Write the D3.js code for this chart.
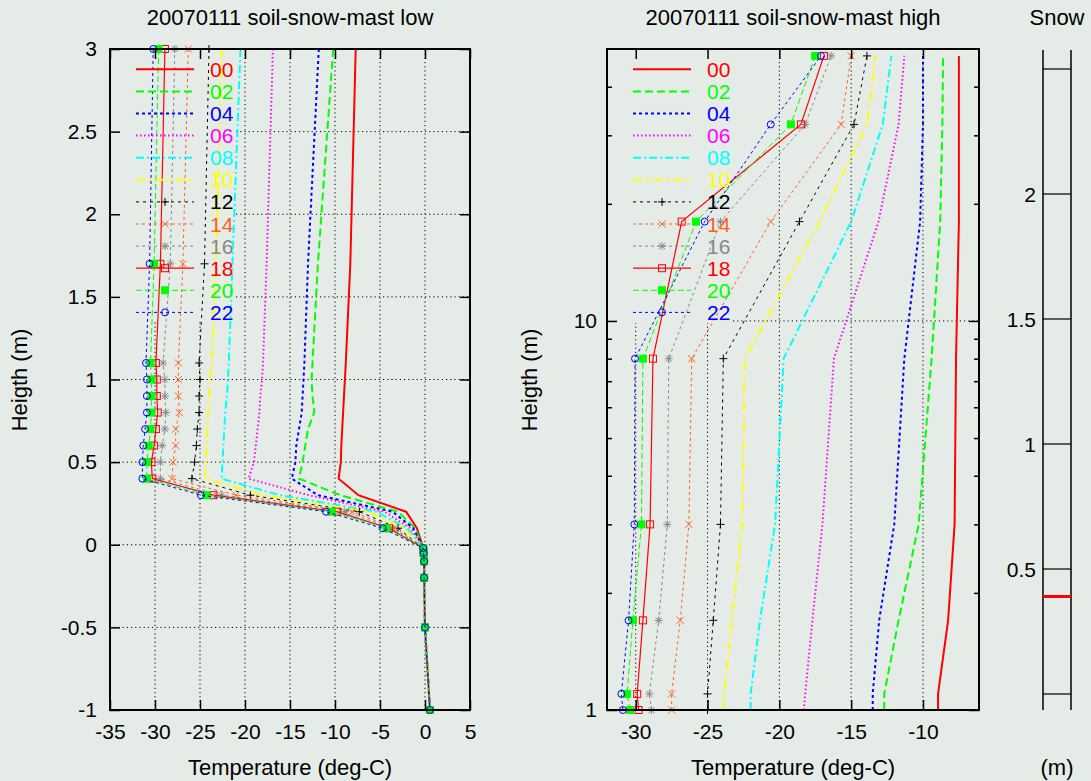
<!DOCTYPE html>
<html>
<head>
<meta charset="utf-8">
<script src="https://cdn.jsdelivr.net/npm/d3@7"></script>
<style>
  body { margin: 0; background: #e5ece8; }
  svg { display: block; font-family: "Liberation Sans", Arial, sans-serif; }
</style>
</head>
<body>
<div class="chart-box"></div>
<script>
// hours of the day (legend keys)
let hours = ["00", "02", "04", "06", "08", "10", "12", "14", "16", "18", "20", "22"];

// soil-snow-mast low: heights (m)
let lowHeights = [3.0, 1.7, 1.1, 1.0, 0.9, 0.8, 0.7, 0.6, 0.5, 0.4, 0.3, 0.2, 0.1, -0.02, -0.05, -0.1, -0.2, -0.5, -1.0];
let low00 = [-7.7, -8.3, -8.8, -8.9, -9.0, -9.1, -9.2, -9.3, -9.35, -9.6, -7.4, -2.1, -0.9, -0.2, -0.15, -0.1, -0.1, 0.0, 0.55];
let low02 = [-10.2, -11.9, -12.5, -12.6, -12.5, -12.3, -13.0, -13.3, -13.6, -14.0, -9.4, -3.0, -1.1, -0.2, -0.15, -0.1, -0.1, 0.0, 0.55];
let low04 = [-11.8, -13.0, -13.4, -13.5, -13.6, -13.7, -14.0, -14.3, -14.4, -14.8, -11.9, -3.6, -1.3, -0.2, -0.15, -0.1, -0.1, 0.0, 0.55];
let low06 = [-16.9, -17.6, -18.0, -18.1, -18.3, -18.4, -18.6, -18.8, -19.0, -19.6, -12.9, -4.5, -1.6, -0.2, -0.15, -0.1, -0.1, 0.0, 0.55];
let low08 = [-20.5, -21.4, -21.8, -21.9, -22.0, -22.2, -22.3, -22.4, -22.5, -22.6, -16.1, -5.4, -2.0, -0.2, -0.15, -0.1, -0.1, 0.0, 0.55];
let low10 = [-22.6, -23.2, -23.7, -23.9, -24.0, -24.1, -24.2, -24.3, -24.3, -24.5, -18.0, -6.3, -2.3, -0.2, -0.15, -0.1, -0.1, 0.0, 0.55];
let low12 = [-24.0, -24.5, -25.1, -25.0, -25.1, -25.1, -25.3, -25.4, -25.6, -25.9, -19.4, -7.3, -3.0, -0.2, -0.15, -0.1, -0.1, 0.0, 0.55];
let low14 = [-26.3, -26.9, -27.4, -27.4, -27.4, -27.3, -27.7, -27.7, -28.0, -28.1, -21.0, -8.1, -3.3, -0.2, -0.15, -0.1, -0.1, 0.0, 0.55];
let low16 = [-27.8, -28.3, -29.1, -28.9, -28.9, -28.8, -28.9, -29.2, -29.4, -29.4, -22.6, -8.9, -3.6, -0.2, -0.15, -0.1, -0.1, 0.0, 0.55];
let low18 = [-28.9, -29.4, -29.9, -29.8, -29.8, -29.7, -29.9, -30.1, -30.4, -30.3, -23.5, -9.8, -4.0, -0.2, -0.15, -0.1, -0.1, 0.0, 0.55];
let low20 = [-29.6, -30.1, -30.5, -30.4, -30.4, -30.4, -30.5, -30.7, -30.9, -30.9, -24.3, -10.4, -4.3, -0.2, -0.15, -0.1, -0.1, 0.0, 0.55];
let low22 = [-30.2, -30.6, -31.0, -30.9, -30.9, -30.9, -31.1, -31.3, -31.4, -31.4, -24.9, -11.0, -4.7, -0.2, -0.15, -0.1, -0.1, 0.0, 0.55];

// soil-snow-mast high: heights (m, log axis)
let highHeights = [1.0, 1.1, 1.7, 3.0, 8.0, 18, 32, 48];
let high00 = [-8.95, -8.95, -8.25, -7.8, -7.7, -7.5, -7.5, -7.5];
let high02 = [-12.7, -12.7, -11.7, -10.3, -9.4, -8.8, -8.65, -8.6];
let high04 = [-13.5, -13.5, -13.05, -12.0, -11.3, -10.2, -10.0, -10.0];
let high06 = [-18.3, -18.2, -17.7, -17.0, -16.2, -13.1, -11.7, -11.3];
let high08 = [-22.0, -22.0, -21.35, -20.3, -19.7, -15.0, -12.8, -12.2];
let high10 = [-23.9, -23.85, -23.3, -22.6, -22.4, -17.2, -13.9, -13.3];
let high12 = [-25.0, -25.0, -24.6, -24.1, -23.9, -18.6, -14.8, -13.9];
let high14 = [-27.5, -27.5, -26.9, -26.3, -26.1, -20.6, -15.7, -15.0];
let high16 = [-28.9, -29.05, -28.4, -27.8, -27.7, -24.1, -18.2, -16.4];
let high18 = [-29.8, -29.9, -29.5, -29.0, -28.8, -26.8, -18.5, -16.9];
let high20 = [-30.4, -30.6, -30.2, -29.6, -29.5, -25.8, -19.2, -17.5];
let high22 = [-30.9, -31.0, -30.5, -30.1, -30.05, -25.2, -20.6, -17.1];

// snow gauge
let snowTicks = [0, 0.5, 1, 1.5, 2, 2.5];
let snowLabels = [0.5, 1, 1.5, 2];
let snowDepth = 0.39;

let lowTemps = [low00, low02, low04, low06, low08, low10, low12, low14, low16, low18, low20, low22];
let highTemps = [high00, high02, high04, high06, high08, high10, high12, high14, high16, high18, high20, high22];

let colors = ["#ff0000", "#00ff00", "#0000ff", "#ff00ff", "#00ffff", "#ffff00", "#000000", "#ff6020", "#888888", "#ff0000", "#00ff00", "#0000ff"];
let dashes = [null, "8,4", "3,3", "1.5,2.5", "8,3,2,3", "9,4,3,4", "3,4", "3,3", "3,3", null, "6,3", "3,3"];
let widths = [2, 2, 2, 2, 2, 2, 1, 1, 1, 1.2, 1, 1];
let markers = [null, null, null, null, null, null, "plus", "cross", "star", "square", "fsquare", "circle"];

let bg = "#e5ece8";
let width = 1091, height = 781;
let plain = d => String(d);   // gnuplot style: "-0.5", "2", no unicode minus

let svg = d3.select(".chart-box")
  .append("svg")
  .attr("width", width)
  .attr("height", height);

svg.append("rect").attr("width", width).attr("height", height).attr("fill", bg);

let xLow = d3.scaleLinear().domain([-35, 5]).range([110, 470]);
let yLow = d3.scaleLinear().domain([-1, 3]).range([710, 49]);
let xHigh = d3.scaleLinear().domain([-32, -6.1]).range([607, 979]);
let yHigh = d3.scaleLog().domain([1, 50]).range([710, 49]);
let ySnow = d3.scaleLinear().domain([-0.064, 2.576]).range([710, 50]);

function drawMarker(g, type, cx, cy, color) {
  let m = g.append("g").attr("transform", `translate(${cx},${cy})`)
    .attr("stroke", color).attr("stroke-width", 1).attr("fill", "none");
  if (type == "plus") m.append("path").attr("d", "M-4,0H4M0,-4V4");
  if (type == "cross") m.append("path").attr("d", "M-3.5,-3.5L3.5,3.5M-3.5,3.5L3.5,-3.5");
  if (type == "star") m.append("path").attr("d", "M-4,0H4M0,-4V4M-3,-3L3,3M-3,3L3,-3");
  if (type == "square") m.append("rect").attr("x", -3.5).attr("y", -3.5).attr("width", 7).attr("height", 7);
  if (type == "fsquare") m.append("rect").attr("x", -3.5).attr("y", -3.5).attr("width", 7).attr("height", 7).attr("fill", color);
  if (type == "circle") m.append("circle").attr("r", 3.5);
}

function drawGrid(g, x, y, xs, ys, keyBox) {
  let grid = g.append("g").attr("stroke", "#000").attr("stroke-width", 1).attr("stroke-dasharray", "1.2,3");
  xs.forEach(v => grid.append("line").attr("x1", x(v)).attr("x2", x(v)).attr("y1", y.range()[0]).attr("y2", y.range()[1]));
  ys.forEach(v => grid.append("line").attr("x1", x.range()[0]).attr("x2", x.range()[1]).attr("y1", y(v)).attr("y2", y(v)));
  // key area hides the grid
  g.append("rect").attr("x", keyBox[0]).attr("y", keyBox[1]).attr("width", keyBox[2]).attr("height", keyBox[3]).attr("fill", bg);
}

function drawSeries(g, x, y, heights, temps) {
  let line = d3.line().x(d => x(d[0])).y(d => y(d[1]));
  temps.forEach((vals, i) => {
    let pts = vals.map((t, j) => [t, heights[j]]);
    g.append("path")
      .attr("d", line(pts))
      .attr("fill", "none")
      .attr("stroke", colors[i])
      .attr("stroke-width", widths[i])
      .attr("stroke-dasharray", dashes[i]);
    if (markers[i]) pts.forEach(p => drawMarker(g, markers[i], x(p[0]), y(p[1]), colors[i]));
  });
}

function drawKey(g, x0, x1, xText) {
  hours.forEach((h, i) => {
    let yy = 69.3 + i * 22.1;
    g.append("line").attr("x1", x0).attr("x2", x1).attr("y1", yy).attr("y2", yy)
      .attr("stroke", colors[i]).attr("stroke-width", widths[i]).attr("stroke-dasharray", dashes[i]);
    if (markers[i]) drawMarker(g, markers[i], (x0 + x1) / 2, yy, colors[i]);
    g.append("text").attr("x", xText).attr("y", yy + 7.5)
      .attr("font-size", 21).attr("fill", colors[i]).text(h);
  });
}

function styleAxis(sel) {
  sel.attr("font-size", 21).attr("font-family", null);
  sel.select(".domain").remove();
  sel.selectAll(".tick line").attr("stroke-width", 1.5);
  sel.selectAll(".tick text").attr("fill", "#000");
}

function drawFrame(g, x, y) {
  g.append("rect")
    .attr("x", x.range()[0]).attr("y", y.range()[1])
    .attr("width", x.range()[1] - x.range()[0]).attr("height", y.range()[0] - y.range()[1])
    .attr("fill", "none").attr("stroke", "#000").attr("stroke-width", 2);
}

// ---- left panel: low ----
let gL = svg.append("g");
drawGrid(gL, xLow, yLow, xLow.ticks(8).slice(1, -1), yLow.ticks(8).slice(1, -1), [111, 50, 123, 272]);
drawSeries(gL, xLow, yLow, lowHeights, lowTemps);
drawKey(gL, 136, 194, 210);

gL.append("g").attr("transform", "translate(0,710)")
  .call(d3.axisBottom(xLow).ticks(8).tickFormat(plain).tickSizeInner(-10).tickSizeOuter(0).tickPadding(14))
  .call(styleAxis);
gL.append("g").attr("transform", "translate(0,49)")
  .call(d3.axisTop(xLow).ticks(8).tickSizeInner(-10).tickSizeOuter(0).tickFormat(""))
  .call(styleAxis);
gL.append("g").attr("transform", "translate(110,0)")
  .call(d3.axisLeft(yLow).ticks(8).tickFormat(plain).tickSizeInner(-10).tickSizeOuter(0).tickPadding(13))
  .call(styleAxis);
gL.append("g").attr("transform", "translate(470,0)")
  .call(d3.axisRight(yLow).ticks(8).tickSizeInner(-10).tickSizeOuter(0).tickFormat(""))
  .call(styleAxis);
drawFrame(gL, xLow, yLow);

// ---- right panel: high ----
let gH = svg.append("g");
drawGrid(gH, xHigh, yHigh, xHigh.ticks(5), [10], [608, 50, 122, 273]);
drawSeries(gH, xHigh, yHigh, highHeights, highTemps);
drawKey(gH, 633, 691, 707);

let minorY = [2, 3, 4, 5, 6, 7, 8, 9, 20, 30, 40];
gH.append("g").attr("transform", "translate(0,710)")
  .call(d3.axisBottom(xHigh).ticks(5).tickFormat(plain).tickSizeInner(-10).tickSizeOuter(0).tickPadding(14))
  .call(styleAxis);
gH.append("g").attr("transform", "translate(0,49)")
  .call(d3.axisTop(xHigh).ticks(5).tickSizeInner(-10).tickSizeOuter(0).tickFormat(""))
  .call(styleAxis);
gH.append("g").attr("transform", "translate(607,0)")
  .call(d3.axisLeft(yHigh).tickValues([1, 10]).tickFormat(plain).tickSizeInner(-10).tickSizeOuter(0).tickPadding(10))
  .call(styleAxis);
gH.append("g").attr("transform", "translate(979,0)")
  .call(d3.axisRight(yHigh).tickValues([1, 10]).tickFormat("").tickSizeInner(-10).tickSizeOuter(0))
  .call(styleAxis);
gH.append("g").attr("transform", "translate(607,0)")
  .call(d3.axisLeft(yHigh).tickValues(minorY).tickFormat("").tickSizeInner(-5).tickSizeOuter(0))
  .call(styleAxis);
gH.append("g").attr("transform", "translate(979,0)")
  .call(d3.axisRight(yHigh).tickValues(minorY).tickFormat("").tickSizeInner(-5).tickSizeOuter(0))
  .call(styleAxis);
drawFrame(gH, xHigh, yHigh);

// ---- snow gauge ----
let gS = svg.append("g");
[1043, 1071].forEach(xx => gS.append("line").attr("x1", xx).attr("x2", xx)
  .attr("y1", ySnow.range()[0]).attr("y2", ySnow.range()[1]).attr("stroke", "#000").attr("stroke-width", 1.5));
gS.selectAll(".snow-tick").data(snowTicks).enter().append("line")
  .attr("x1", 1043).attr("x2", 1071).attr("y1", d => ySnow(d)).attr("y2", d => ySnow(d))
  .attr("stroke", "#000").attr("stroke-width", 1.2);
gS.selectAll(".snow-label").data(snowLabels).enter().append("text")
  .attr("x", 1036).attr("y", d => ySnow(d) + 7.5).attr("text-anchor", "end").attr("font-size", 21)
  .text(d => d);
gS.append("line").attr("x1", 1043).attr("x2", 1071).attr("y1", ySnow(snowDepth)).attr("y2", ySnow(snowDepth))
  .attr("stroke", "#ff0000").attr("stroke-width", 3);

// ---- titles and axis labels ----
let texts = [
  ["20070111 soil-snow-mast low", 290, 25],
  ["20070111 soil-snow-mast high", 793, 25],
  ["Snow", 1057, 25],
  ["Temperature (deg-C)", 290, 775],
  ["Temperature (deg-C)", 793, 775],
  ["(m)", 1057, 775]
];
texts.forEach(t => svg.append("text").attr("x", t[1]).attr("y", t[2])
  .attr("text-anchor", "middle").attr("font-size", 22).text(t[0]));
[27, 537].forEach(xx => svg.append("text")
  .attr("transform", `translate(${xx},380) rotate(-90)`)
  .attr("text-anchor", "middle").attr("font-size", 22).text("Heigth (m)"));
</script>
</body>
</html>
